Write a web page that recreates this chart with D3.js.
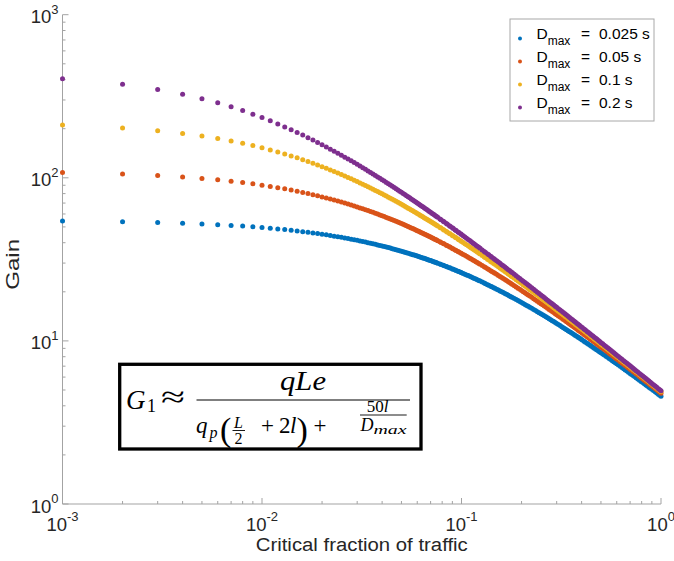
<!DOCTYPE html>
<html>
<head>
<meta charset="utf-8">
<script src="https://cdn.jsdelivr.net/npm/d3@7/dist/d3.min.js"></script>
<style>
  html, body { margin: 0; padding: 0; background: #ffffff; }
  svg { display: block; }
</style>
</head>
<body>
<svg id="chart" width="674" height="561"></svg>
<script>
// ---- data ----
const fraction = [
  0.001,0.002,0.003,0.004,0.005,0.006,0.007,0.008,0.009,0.010,
  0.011,0.012,0.013,0.014,0.015,0.016,0.017,0.018,0.019,0.020,
  0.021,0.022,0.023,0.024,0.025,0.026,0.027,0.028,0.029,0.030,
  0.031,0.032,0.033,0.034,0.035,0.036,0.037,0.038,0.039,0.040,
  0.041,0.042,0.043,0.044,0.045,0.046,0.047,0.048,0.049,0.050,
  0.051,0.052,0.053,0.054,0.055,0.056,0.057,0.058,0.059,0.060,0.061,0.062,0.063,0.064,0.065,0.066,0.067,0.068,0.069,0.070,0.071,0.072,0.073,0.074,0.075,0.076,
  0.078,0.079,0.081,0.082,0.084,0.085,0.087,0.088,0.090,0.091,0.093,0.094,0.096,0.097,0.099,0.100,
  0.102,0.104,0.106,0.108,0.110,0.112,0.114,0.116,0.118,0.120,0.122,0.124,
  0.127,0.130,0.132,0.135,0.137,0.140,0.142,0.145,0.147,0.150,
  0.153,0.156,0.159,0.162,0.165,0.168,0.171,0.174,0.177,0.180,
  0.184,0.188,0.192,0.196,0.200,0.204,0.208,0.212,0.216,0.220,
  0.225,0.230,0.235,0.240,0.245,0.250,0.255,0.260,0.265,0.270,0.275,0.280,0.285,0.290,0.295,0.300,
  0.306,0.312,0.318,0.324,0.330,0.336,0.342,0.348,0.354,0.360,0.366,0.372,0.378,0.384,0.390,0.396,
  0.403,0.411,0.418,0.426,0.433,0.441,0.448,0.456,0.463,0.471,0.478,0.486,0.493,0.501,
  0.510,0.520,0.530,0.540,0.550,0.560,0.570,0.580,0.590,0.600,
  0.612,0.625,0.637,0.650,0.662,0.675,0.687,0.700,0.712,0.725,0.737,0.750,
  0.765,0.780,0.795,0.810,0.825,0.840,0.855,0.870,0.885,0.900,
  0.917,0.935,0.952,0.970,0.985,1.000
];
const gainD025 = [
  54.40,53.82,53.24,52.68,52.13,51.59,51.07,50.55,50.05,49.55,
  49.06,48.59,48.12,47.66,47.21,46.77,46.34,45.91,45.49,45.08,
  44.68,44.28,43.89,43.51,43.14,42.77,42.41,42.05,41.70,41.35,
  41.01,40.68,40.35,40.03,39.71,39.40,39.09,38.79,38.49,38.19,
  37.90,37.62,37.34,37.06,36.79,36.52,36.26,35.99,35.74,35.48,
  35.23,34.99,34.74,34.50,34.27,34.03,33.80,33.58,33.35,33.13,32.91,32.70,32.49,32.28,32.07,31.87,31.66,31.46,31.27,31.07,30.88,30.69,30.50,30.32,30.14,29.96,
  29.60,29.43,29.09,28.92,28.59,28.42,28.10,27.95,27.64,27.49,27.19,27.04,26.75,26.61,26.33,26.19,
  25.92,25.65,25.39,25.14,24.89,24.64,24.40,24.17,23.93,23.71,23.48,23.27,
  22.95,22.63,22.43,22.13,21.94,21.65,21.47,21.19,21.02,20.75,
  20.50,20.25,20.01,19.77,19.54,19.31,19.09,18.87,18.66,18.46,
  18.19,17.93,17.67,17.43,17.19,16.95,16.73,16.51,16.29,16.08,
  15.83,15.58,15.34,15.11,14.88,14.67,14.45,14.25,14.05,13.85,13.66,13.48,13.30,13.13,12.96,12.79,
  12.60,12.41,12.23,12.05,11.88,11.71,11.55,11.39,11.24,11.09,10.94,10.80,10.66,10.53,10.40,10.27,
  10.12,9.962,9.825,9.673,9.544,9.400,9.278,9.142,9.027,8.898,8.789,8.667,8.563,8.447,
  8.321,8.185,8.053,7.925,7.801,7.682,7.565,7.453,7.343,7.237,
  7.113,6.984,6.869,6.748,6.641,6.528,6.427,6.322,6.227,6.128,6.039,5.946,
  5.842,5.741,5.644,5.550,5.459,5.371,5.286,5.203,5.123,5.046,
  4.961,4.874,4.794,4.713,4.647,4.583
];
const gainD05 = [
  107.6,105.4,103.2,101.1,99.10,97.17,95.32,93.54,91.82,90.16,
  88.57,87.03,85.54,84.10,82.71,81.36,80.06,78.80,77.57,76.39,
  75.24,74.12,73.04,71.99,70.97,69.97,69.01,68.07,67.16,66.27,
  65.40,64.55,63.73,62.93,62.15,61.38,60.64,59.91,59.20,58.51,
  57.83,57.17,56.53,55.89,55.28,54.67,54.08,53.50,52.94,52.38,
  51.84,51.31,50.78,50.27,49.77,49.28,48.80,48.33,47.87,47.41,46.97,46.53,46.10,45.68,45.27,44.86,44.46,44.07,43.69,43.31,42.94,42.57,42.21,41.86,41.51,41.17,
  40.50,40.18,39.54,39.23,38.62,38.33,37.75,37.47,36.91,36.64,36.11,35.85,35.35,35.10,34.61,34.38,
  33.91,33.45,33.01,32.58,32.16,31.76,31.36,30.97,30.59,30.22,29.86,29.51,
  28.99,28.50,28.18,27.71,27.40,26.96,26.67,26.25,25.98,25.58,
  25.19,24.82,24.46,24.10,23.76,23.42,23.10,22.78,22.48,22.18,
  21.79,21.42,21.06,20.71,20.37,20.04,19.73,19.42,19.12,18.84,
  18.49,18.15,17.83,17.52,17.21,16.92,16.64,16.37,16.11,15.85,15.60,15.36,15.13,14.91,14.69,14.47,
  14.23,13.99,13.76,13.53,13.32,13.11,12.90,12.71,12.52,12.33,12.15,11.98,11.81,11.64,11.48,11.33,
  11.15,10.95,10.79,10.61,10.45,10.28,10.13,9.971,9.834,9.681,9.552,9.408,9.286,9.150,
  9.002,8.842,8.689,8.540,8.397,8.258,8.124,7.994,7.868,7.746,
  7.605,7.458,7.327,7.190,7.068,6.940,6.826,6.707,6.601,6.490,6.390,6.286,
  6.169,6.057,5.949,5.845,5.744,5.647,5.553,5.462,5.374,5.288,
  5.195,5.100,5.013,4.924,4.852,4.783
];
const gainD1 = [
  210.7,202.2,194.3,187.1,180.3,174.1,168.2,162.7,157.6,152.8,
  148.2,144.0,140.0,136.1,132.5,129.1,125.9,122.8,119.8,117.0,
  114.3,111.8,109.3,107.0,104.8,102.6,100.5,98.57,96.66,94.83,
  93.06,91.36,89.72,88.14,86.61,85.14,83.71,82.34,81.00,79.71,
  78.46,77.25,76.07,74.93,73.83,72.75,71.71,70.69,69.71,68.75,
  67.82,66.91,66.03,65.17,64.33,63.51,62.71,61.94,61.18,60.44,59.72,59.01,58.32,57.65,56.99,56.35,55.72,55.11,54.51,53.92,53.35,52.78,52.23,51.69,51.16,50.64,
  49.64,49.15,48.20,47.74,46.85,46.41,45.57,45.16,44.35,43.96,43.20,42.83,42.11,41.76,41.08,40.74,
  40.09,39.45,38.84,38.25,37.67,37.11,36.57,36.04,35.53,35.03,34.55,34.08,
  33.39,32.74,32.31,31.70,31.30,30.73,30.35,29.81,29.46,28.95,
  28.45,27.98,27.51,27.07,26.63,26.22,25.81,25.42,25.03,24.66,
  24.19,23.73,23.29,22.86,22.45,22.05,21.67,21.30,20.94,20.60,
  20.18,19.78,19.40,19.03,18.68,18.33,18.00,17.68,17.38,17.08,16.79,16.52,16.25,15.99,15.74,15.49,
  15.21,14.94,14.67,14.42,14.18,13.94,13.71,13.49,13.27,13.06,12.86,12.67,12.48,12.29,12.11,11.94,
  11.74,11.53,11.34,11.14,10.97,10.78,10.62,10.44,10.29,10.13,9.985,9.829,9.695,9.547,
  9.386,9.213,9.046,8.885,8.730,8.580,8.436,8.296,8.160,8.029,
  7.877,7.719,7.579,7.432,7.302,7.166,7.045,6.918,6.805,6.687,6.581,6.471,
  6.347,6.229,6.115,6.004,5.898,5.796,5.697,5.601,5.508,5.419,
  5.321,5.221,5.130,5.037,4.962,4.889
];
const gainD2 = [
  404.4,374.1,348.1,325.4,305.6,288.0,272.3,258.2,245.5,234.0,
  223.6,214.0,205.2,197.1,189.7,182.7,176.3,170.3,164.7,159.4,
  154.5,149.9,145.5,141.4,137.5,133.8,130.3,127.0,123.9,120.9,
  118.0,115.3,112.7,110.2,107.8,105.6,103.4,101.3,99.28,97.35,
  95.49,93.70,91.97,90.31,88.71,87.16,85.67,84.23,82.83,81.48,
  80.17,78.91,77.68,76.50,75.34,74.22,73.14,72.08,71.06,70.06,69.10,68.15,67.24,66.34,65.48,64.63,63.81,63.00,62.22,61.45,60.71,59.98,59.27,58.57,57.89,57.23,
  55.95,55.33,54.13,53.55,52.43,51.89,50.83,50.32,49.33,48.85,47.91,47.45,46.57,46.14,45.31,44.90,
  44.11,43.34,42.60,41.89,41.20,40.53,39.88,39.26,38.65,38.06,37.49,36.94,
  36.14,35.37,34.88,34.16,33.70,33.03,32.60,31.98,31.57,30.99,
  30.42,29.88,29.35,28.84,28.35,27.88,27.42,26.97,26.54,26.13,
  25.59,25.08,24.59,24.11,23.66,23.22,22.79,22.38,21.99,21.61,
  21.15,20.72,20.30,19.89,19.50,19.13,18.77,18.43,18.09,17.77,17.46,17.16,16.87,16.59,16.32,16.06,
  15.75,15.46,15.18,14.91,14.65,14.39,14.15,13.91,13.69,13.46,13.25,13.04,12.84,12.65,12.46,12.27,
  12.07,11.84,11.65,11.43,11.25,11.05,10.88,10.70,10.54,10.37,10.22,10.05,9.913,9.759,
  9.590,9.410,9.236,9.068,8.907,8.751,8.600,8.455,8.314,8.178,
  8.021,7.857,7.712,7.560,7.425,7.285,7.160,7.029,6.912,6.790,6.681,6.567,
  6.440,6.318,6.201,6.087,5.978,5.873,5.771,5.673,5.578,5.486,
  5.386,5.283,5.190,5.095,5.018,4.944
];
const seriesValues = ["0.025 s", "0.05 s", "0.1 s", "0.2 s"];
const seriesColors = ["#0072BD", "#D95319", "#EDB120", "#7E2F8E"];
const xTickExponents = ["-3", "-2", "-1", "0"];
const yTickExponents = ["0", "1", "2", "3"];
const xLabel = "Critical fraction of traffic";
const yLabel = "Gain";

// ---- layout ----
const svg = d3.select("#chart");
const pL = 62.5, pR = 661, pT = 14.7, pB = 504;
const x = d3.scaleLog().domain([1e-3, 1]).range([pL, pR]);
const y = d3.scaleLog().domain([1, 1e3]).range([pB, pT]);
const axisColor = "#a3a3a3";
const textColor = "#262626";
const sansFont = "'Liberation Sans', Arial, Helvetica, sans-serif";

// axes lines
const axes = svg.append("g");
axes.append("line").attr("x1", pL).attr("x2", pL).attr("y1", pT).attr("y2", pB)
  .attr("stroke", axisColor).attr("stroke-width", 1);
axes.append("line").attr("x1", pL).attr("x2", pR).attr("y1", pB).attr("y2", pB)
  .attr("stroke", axisColor).attr("stroke-width", 1);

const isMajor = v => Math.abs(Math.log10(v) - Math.round(Math.log10(v))) < 1e-9;
const xTicks = x.ticks();
const yTicks = y.ticks();
axes.selectAll(".xt").data(xTicks).join("line")
  .attr("x1", d => x(d)).attr("x2", d => x(d))
  .attr("y1", pB).attr("y2", d => pB - (isMajor(d) ? 6 : 3))
  .attr("stroke", axisColor).attr("stroke-width", 1);
axes.selectAll(".yt").data(yTicks).join("line")
  .attr("y1", d => y(d)).attr("y2", d => y(d))
  .attr("x1", pL).attr("x2", d => pL + (isMajor(d) ? 6 : 3))
  .attr("stroke", axisColor).attr("stroke-width", 1);

// tick labels
const xMajor = xTicks.filter(isMajor);
const yMajor = yTicks.filter(isMajor);
xMajor.forEach((v, i) => {
  const t = svg.append("text")
    .attr("x", x(v)).attr("y", 530.5)
    .attr("text-anchor", "middle")
    .attr("font-family", sansFont).attr("font-size", 18.5).attr("fill", textColor);
  t.append("tspan").text("10");
  t.append("tspan").attr("dy", -9.5).attr("font-size", 13).text(xTickExponents[i]);
});
yMajor.forEach((v, i) => {
  const t = svg.append("text")
    .attr("x", 58.5).attr("y", y(v) + 8.5)
    .attr("text-anchor", "end")
    .attr("font-family", sansFont).attr("font-size", 18.5).attr("fill", textColor);
  t.append("tspan").text("10");
  t.append("tspan").attr("dy", -9.5).attr("font-size", 13).text(yTickExponents[i]);
});

// axis labels
svg.append("text")
  .attr("x", (pL + pR) / 2).attr("y", 551)
  .attr("text-anchor", "middle")
  .attr("font-family", sansFont).attr("font-size", 18).attr("fill", textColor)
  .attr("textLength", 212).attr("lengthAdjust", "spacingAndGlyphs")
  .text(xLabel);
svg.append("text")
  .attr("transform", `translate(19,${(pT + pB) / 2 + 5}) rotate(-90)`)
  .attr("text-anchor", "middle")
  .attr("font-family", sansFont).attr("font-size", 18).attr("fill", textColor)
  .attr("textLength", 51).attr("lengthAdjust", "spacingAndGlyphs")
  .text(yLabel);

// points
const allSeries = [gainD025, gainD05, gainD1, gainD2];
allSeries.forEach((vals, si) => {
  svg.append("g").selectAll("circle")
    .data(fraction.map((f, i) => [f, vals[i]]))
    .join("circle")
    .attr("cx", d => x(d[0]))
    .attr("cy", d => y(d[1]))
    .attr("r", 2.5)
    .attr("fill", seriesColors[si]);
});

// legend
const lg = svg.append("g");
lg.append("rect").attr("x", 510).attr("y", 19).attr("width", 144).attr("height", 102)
  .attr("fill", "#ffffff").attr("stroke", "#a8a8a8").attr("stroke-width", 1);
seriesValues.forEach((s, i) => {
  const cy = 38.5 + 23 * i;
  lg.append("circle").attr("cx", 520).attr("cy", cy).attr("r", 2).attr("fill", seriesColors[i]);
  const t = lg.append("text").attr("x", 536.5).attr("y", cy + 0.5)
    .attr("font-family", sansFont).attr("font-size", 15.5).attr("fill", "#000");
  t.append("tspan").text("D");
  t.append("tspan").attr("dy", 6).attr("font-size", 12).text("max");
  t.append("tspan").attr("x", 581).attr("dy", -6).text("=");
  t.append("tspan").attr("x", 599).text(s);
});

// equation box
const eq = svg.append("g");
const serif = "'Liberation Serif', 'Times New Roman', serif";
eq.append("rect").attr("x", 119.7).attr("y", 364.3).attr("width", 301.3).attr("height", 84.7)
  .attr("fill", "#ffffff").attr("stroke", "#000").attr("stroke-width", 3.3);
function tx(xp, yp, str, size, italic, anchor) {
  return eq.append("text").attr("x", xp).attr("y", yp)
    .attr("font-family", serif).attr("font-size", size)
    .attr("font-style", italic ? "italic" : "normal")
    .attr("text-anchor", anchor || "start").attr("fill", "#000").text(str);
}
tx(126, 408.5, "G", 27, true);
tx(147, 411.5, "1", 18, false);
tx(161, 407, "≈", 30, false).attr("textLength", 24).attr("lengthAdjust", "spacingAndGlyphs");
eq.append("line").attr("x1", 196.5).attr("x2", 410).attr("y1", 400).attr("y2", 400)
  .attr("stroke", "#000").attr("stroke-width", 1.2);
tx(280, 390, "qLe", 27, true).attr("textLength", 46).attr("lengthAdjust", "spacingAndGlyphs");
// denominator
tx(196, 433, "q", 23, true);
tx(209.5, 437.5, "p", 16, true);
tx(220, 441, "(", 34, false);
tx(238.5, 428, "L", 16, true, "middle");
eq.append("line").attr("x1", 232.5).attr("x2", 245).attr("y1", 430.5).attr("y2", 430.5)
  .attr("stroke", "#000").attr("stroke-width", 0.9);
tx(238.5, 443.5, "2", 16, false, "middle");
tx(267.5, 433, "+", 23, false, "middle");
tx(279, 433, "2", 23, false);
tx(290, 433, "l", 23, true);
tx(296.5, 441, ")", 34, false);
tx(320, 433, "+", 23, false, "middle");
tx(377.5, 411.5, "50", 17, false, "middle").append("tspan").attr("font-style", "italic").text("l");
eq.append("line").attr("x1", 360).attr("x2", 406.7).attr("y1", 415).attr("y2", 415)
  .attr("stroke", "#000").attr("stroke-width", 0.9);
tx(360.5, 430.5, "D", 18, true);
tx(373.5, 434, "max", 13, true).attr("textLength", 33).attr("lengthAdjust", "spacingAndGlyphs");
</script>
</body>
</html>
